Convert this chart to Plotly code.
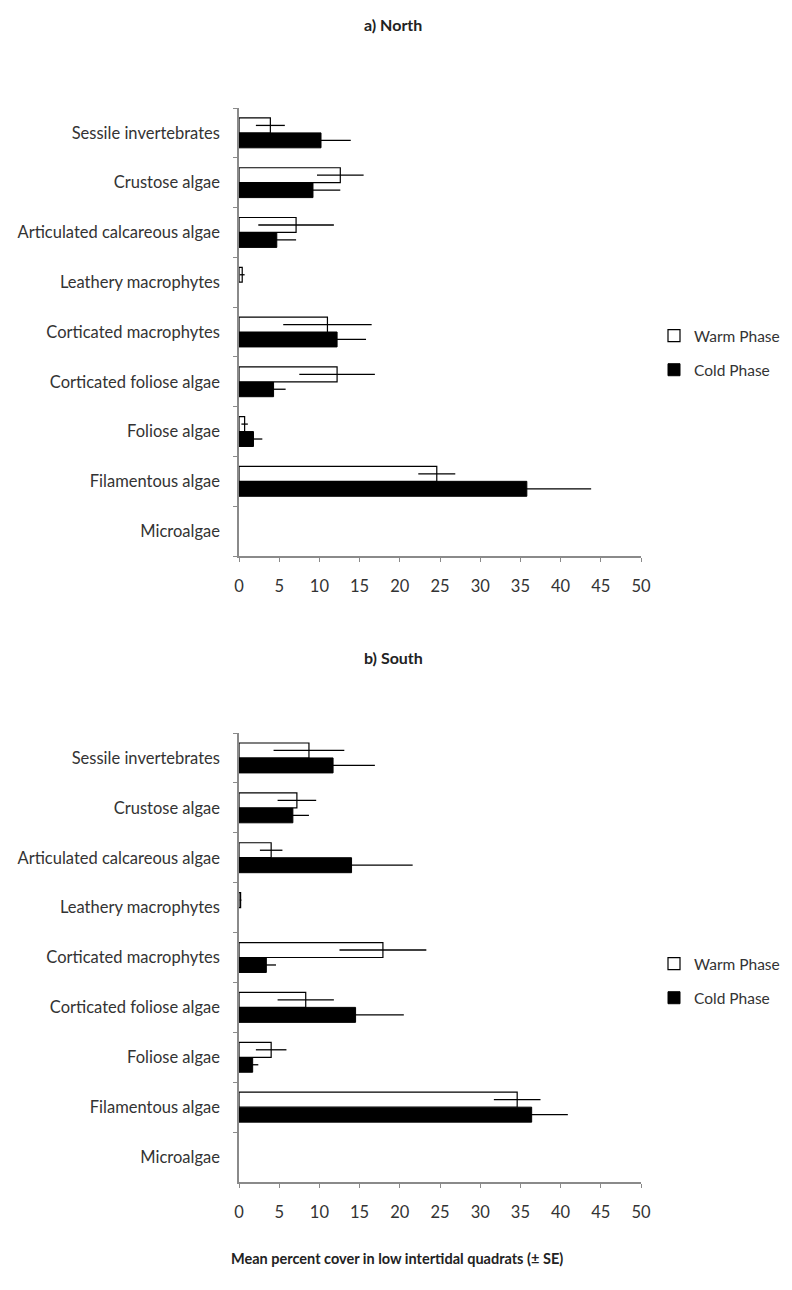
import plotly.graph_objects as go

categories = ["Microalgae", "Filamentous algae", "Foliose algae", "Corticated foliose algae",
              "Corticated macrophytes", "Leathery macrophytes", "Articulated calcareous algae",
              "Crustose algae", "Sessile invertebrates"]

north_warm = [0, 24.6, 0.7, 12.2, 11.0, 0.4, 7.1, 12.6, 3.9]
north_warm_se = [0, 2.3, 0.4, 4.7, 5.5, 0.3, 4.7, 2.9, 1.8]
north_cold = [0, 35.8, 1.8, 4.3, 12.2, 0, 4.7, 9.2, 10.2]
north_cold_se = [0, 8.0, 1.1, 1.5, 3.6, 0, 2.4, 3.4, 3.7]

south_warm = [0, 34.6, 4.0, 8.3, 17.9, 0.2, 4.0, 7.2, 8.7]
south_warm_se = [0, 2.9, 1.9, 3.5, 5.4, 0.1, 1.4, 2.4, 4.4]
south_cold = [0, 36.4, 1.7, 14.5, 3.4, 0, 14.0, 6.7, 11.7]
south_cold_se = [0, 4.5, 0.7, 6.0, 1.2, 0, 7.6, 2.0, 5.2]

x_ticks = [0, 5, 10, 15, 20, 25, 30, 35, 40, 45, 50]

FONT = "Lato, 'Open Sans', sans-serif"
W, H = 792, 1290
OFF = 8  # page body margin
L = 239 - OFF
R = W - (641 - OFF)
PW = W - L - R

def px_x(sx):
    return (sx - OFF - L) / PW

def px_y(sy):
    return 1 - (sy - OFF) / H

def nz(vals):
    # zero cover is drawn as no bar at all
    return [v if v != 0 else None for v in vals]

fig = go.Figure()

def add_panel(warm, warm_se, cold, cold_se, xa, ya, legend):
    fig.add_trace(go.Bar(
        y=categories, x=nz(cold), orientation="h", name="Cold Phase",
        marker=dict(color="black", line=dict(color="black", width=1)),
        error_x=dict(type="data", array=cold_se, color="black", thickness=1.3, width=0),
        xaxis=xa, yaxis=ya, legend=legend, legendrank=2, legendgroup="c"))
    fig.add_trace(go.Bar(
        y=categories, x=nz(warm), orientation="h", name="Warm Phase",
        marker=dict(color="white", line=dict(color="black", width=1.2)),
        error_x=dict(type="data", array=warm_se, color="black", thickness=1.3, width=0),
        xaxis=xa, yaxis=ya, legend=legend, legendrank=1, legendgroup="w"))

add_panel(north_warm, north_warm_se, north_cold, north_cold_se, "x", "y", "legend")
add_panel(south_warm, south_warm_se, south_cold, south_cold_se, "x2", "y2", "legend2")

def ydom(top_sy, bot_sy):
    return [px_y(bot_sy), px_y(top_sy)]

TICKFONT = dict(family=FONT, size=16.5, color="#333333")
xaxis_style = dict(range=[0, 50], tickvals=x_ticks, showgrid=False, zeroline=False,
                   showline=True, linecolor="#8a8a8a", linewidth=1.5,
                   ticks="outside", ticklen=4, tickcolor="#8a8a8a",
                   ticklabelstandoff=10, tickfont=TICKFONT)
yaxis_style = dict(type="category", categoryorder="array", categoryarray=categories,
                   showgrid=False, zeroline=False, showline=True, linecolor="#8a8a8a",
                   linewidth=1.5, ticks="outside", ticklen=4, tickcolor="#8a8a8a",
                   tickson="boundaries", ticklabelstandoff=14, tickfont=TICKFONT)

legend_style = dict(xanchor="left", yanchor="middle", itemwidth=30, tracegroupgap=11,
                    font=dict(family=FONT, size=15.5, color="#333333"), bgcolor="rgba(0,0,0,0)")

fig.update_layout(
    width=W, height=H,
    margin=dict(l=L, r=R, t=0, b=0),
    paper_bgcolor="white", plot_bgcolor="white",
    barmode="group", bargap=0.4, bargroupgap=0,
    font=dict(family=FONT, color="#222222"),
    xaxis=dict(domain=[0, 1], anchor="y", **xaxis_style),
    yaxis=dict(domain=ydom(108, 556), anchor="x", **yaxis_style),
    xaxis2=dict(domain=[0, 1], anchor="y2", **xaxis_style),
    yaxis2=dict(domain=ydom(733, 1182), anchor="x2", **yaxis_style),
    legend=dict(x=px_x(654), y=px_y(353), **legend_style),
    legend2=dict(x=px_x(654), y=px_y(981), **legend_style),
    annotations=[
        dict(text="<b>a) North</b>", x=px_x(393), y=px_y(25), xref="paper", yref="paper",
             xanchor="center", yanchor="middle", showarrow=False,
             font=dict(family=FONT, size=16, color="#222222")),
        dict(text="<b>b) South</b>", x=px_x(393), y=px_y(657), xref="paper", yref="paper",
             xanchor="center", yanchor="middle", showarrow=False,
             font=dict(family=FONT, size=16, color="#222222")),
        dict(text="<b>Mean percent cover in low intertidal quadrats (± SE)</b>",
             x=px_x(397), y=px_y(1258), xref="paper", yref="paper",
             xanchor="center", yanchor="middle", showarrow=False,
             font=dict(family=FONT, size=14.5, color="#222222")),
    ],
)

fig.write_html("out.html")
